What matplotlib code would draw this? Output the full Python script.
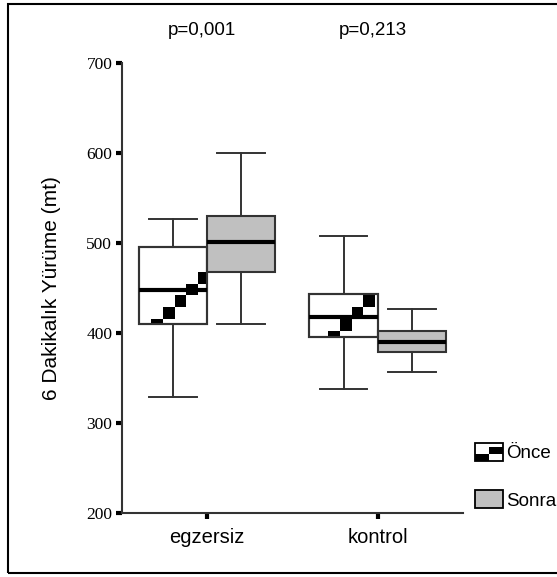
import matplotlib
matplotlib.use('Agg')
import matplotlib.pyplot as plt
from matplotlib.patches import Rectangle, PathPatch, Patch
from matplotlib.collections import PatchCollection
from matplotlib.legend_handler import HandlerBase
from matplotlib.transforms import IdentityTransform

# data
groups = ['egzersiz', 'kontrol']
series = ['Önce', 'Sonra']
p_labels = ['p=0,001', 'p=0,213']

once_whislo = [329, 338]
once_q1 = [410, 396]
once_med = [448, 418]
once_q3 = [495, 443]
once_whishi = [527, 508]

sonra_whislo = [410, 357]
sonra_q1 = [468, 379]
sonra_med = [501, 390]
sonra_q3 = [530, 402]
sonra_whishi = [600, 427]

line_col = '#333333'
sonra_col = '#c0c0c0'
sans = 'Liberation Sans'


def make_stats(lo, q1, med, q3, hi):
    return [dict(whislo=a, q1=b, med=c, q3=d, whishi=e, fliers=[])
            for a, b, c, d, e in zip(lo, q1, med, q3, hi)]


fig = plt.figure(figsize=(5.57, 5.77), dpi=100)
ax = fig.add_axes([0.219, 0.111, 0.612, 0.780])

common = dict(widths=0.4, capwidths=0.28, patch_artist=True, showfliers=False,
              whiskerprops=dict(color=line_col, lw=1.4),
              capprops=dict(color=line_col, lw=1.4),
              medianprops=dict(color='black', lw=3.0))

pos = range(len(groups))
b1 = ax.bxp(make_stats(once_whislo, once_q1, once_med, once_q3, once_whishi),
            positions=[p - 0.2 for p in pos],
            boxprops=dict(facecolor='white', edgecolor=line_col, lw=1.5), **common)
b2 = ax.bxp(make_stats(sonra_whislo, sonra_q1, sonra_med, sonra_q3, sonra_whishi),
            positions=[p + 0.2 for p in pos],
            boxprops=dict(facecolor=sonra_col, edgecolor=line_col, lw=1.5), **common)

# diagonal block pattern inside the "Önce" boxes (display pixels)
sq = 11.8
period = 8 * sq
x_left = ax.bbox.x0
y_top = ax.bbox.y1
for box in b1['boxes']:
    squares = []
    for k in range(-4, 10):
        for j in range(0, 32):
            xr = 5.5 + j * sq
            yr = 297 + k * period - xr
            squares.append(Rectangle((x_left + xr, y_top - yr), sq, sq))
    pc = PatchCollection(squares, facecolor='black', edgecolor='none',
                         transform=IdentityTransform(), zorder=2.02)
    pc.set_clip_path(box)
    ax.add_collection(pc, autolim=False)
    ax.add_patch(PathPatch(box.get_path(), transform=box.get_transform(),
                           facecolor='none', edgecolor=line_col, lw=1.5, zorder=2.05))

ax.set_xlim(-0.5, 1.5)
ax.set_ylim(200, 700)
ax.set_yticks([200, 300, 400, 500, 600, 700])
ax.set_xticks(list(pos))
ax.set_xticklabels(groups, fontsize=14.5, family=sans)
for lab in ax.get_yticklabels():
    lab.set_family('Liberation Serif')
    lab.set_fontsize(12.5)
ax.tick_params(axis='y', length=4, width=3, pad=3, color='black')
ax.tick_params(axis='x', length=4, width=3, pad=7, color='black')

for s in ['top', 'right']:
    ax.spines[s].set_visible(False)
for s in ['left', 'bottom']:
    ax.spines[s].set_linewidth(1.5)
    ax.spines[s].set_color(line_col)

ax.set_ylabel('6 Dakikalık Yürüme (mt)', fontsize=15, family=sans)
ax.yaxis.set_label_coords(-0.18, 0.5)

for i, p in enumerate(p_labels):
    ax.text(i - 0.03, 736, p, ha='center', va='center', fontsize=13.5,
            family=sans, clip_on=False)


class OnceHandler(HandlerBase):
    def create_artists(self, legend, orig_handle, xdescent, ydescent,
                       width, height, fontsize, trans):
        x0, y0 = -xdescent, -ydescent
        a = Rectangle((x0 + width / 2, y0 + height * 0.35), width / 2, height * 0.45,
                      facecolor='black', edgecolor='none', transform=trans)
        b = Rectangle((x0, y0), width / 2, height * 0.35,
                      facecolor='black', edgecolor='none', transform=trans)
        frame = Rectangle((x0, y0), width, height, facecolor='none',
                          edgecolor='black', lw=1.3, transform=trans)
        return [a, b, frame]


h_once = Patch(facecolor='white', edgecolor='black')
h_sonra = Patch(facecolor=sonra_col, edgecolor='black', lw=1.3)
fig.legend([h_once, h_sonra], series, loc='upper left',
           bbox_to_anchor=(475 / 557, 1 - 443 / 577), frameon=False,
           borderpad=0, borderaxespad=0, handlelength=1.5, handleheight=1.07,
           handletextpad=0.15, labelspacing=1.5,
           prop=dict(family=sans, size=13.5),
           handler_map={h_once: OnceHandler()})

# outer frame
fig.add_artist(Rectangle((8 / 557, 4 / 577), 1.1, 569 / 577, transform=fig.transFigure,
                         facecolor='none', edgecolor='black', lw=1.5, clip_on=False))

fig.savefig('out.png', dpi=100)
